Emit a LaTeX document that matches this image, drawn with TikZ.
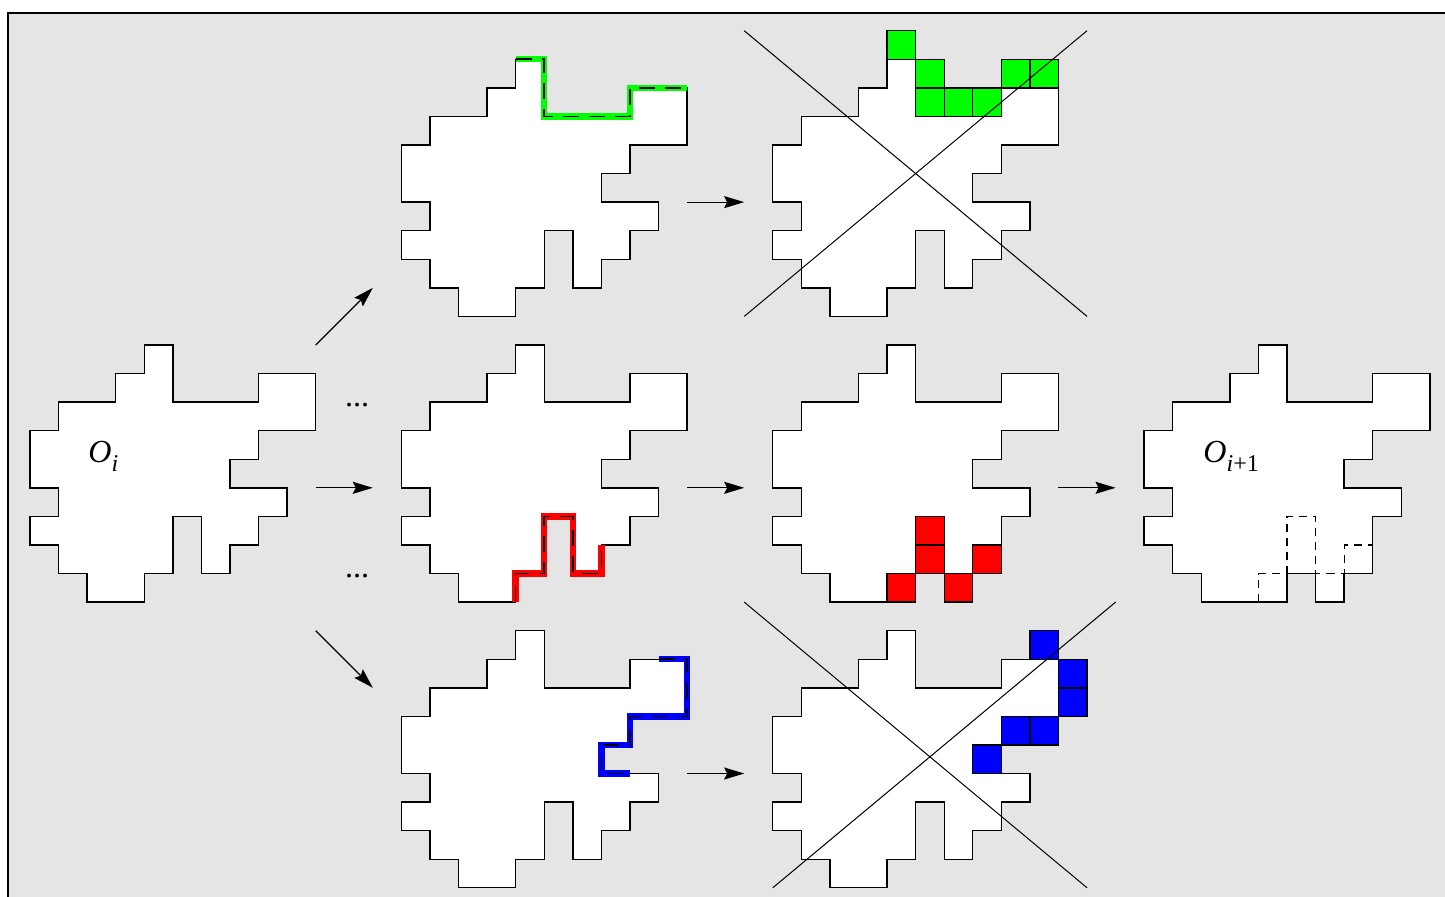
\documentclass[tikz,border=0pt]{standalone}
\usepackage{fontspec}
\setmainfont{Liberation Serif}
\usetikzlibrary{arrows.meta}
\definecolor{bg}{gray}{0.898}
\definecolor{fgreen}{RGB}{0,255,0}
\definecolor{fred}{RGB}{255,0,0}
\definecolor{fblue}{RGB}{0,0,255}
\tikzset{
  outline/.style={draw=black, line width=0.7pt, fill=white, line join=miter},
  cellbox/.style={draw=black, line width=0.7pt},
  hilite/.style={line width=3.2pt, line join=miter},
  hidash/.style={draw=black, line width=0.8pt, dash pattern=on 8pt off 5pt},
  olddash/.style={draw=black, line width=0.6pt, dash pattern=on 4pt off 3pt},
  cross/.style={draw=black, line width=0.5pt},
  arr/.style={-{Stealth[length=10pt,width=6pt,inset=1.5pt]}, line width=0.6pt},
  lbl/.style={font=\fontsize{16}{19}\selectfont, inner sep=0pt},
}
\newcommand{\baseshape}{(4,0)--(5,0)--(5,2)--(8,2)--(8,1)--(10,1)--(10,3)--(8,3)--(8,4)--(7,4)--(7,5)--(9,5)--(9,6)--(8,6)--(8,7)--(7,7)--(7,8)--(6,8)--(6,6)--(5,6)--(5,8)--(4,8)--(4,9)--(2,9)--(2,8)--(1,8)--(1,7)--(0,7)--(0,6)--(1,6)--(1,5)--(0,5)--(0,3)--(1,3)--(1,2)--(3,2)--(3,1)--(4,1)--cycle}
\newcommand{\nextshape}{(4,0)--(5,0)--(5,2)--(8,2)--(8,1)--(10,1)--(10,3)--(8,3)--(8,4)--(7,4)--(7,5)--(9,5)--(9,6)--(8,6)--(8,8)--(7,8)--(7,9)--(6,9)--(6,8)--(5,8)--(5,9)--(2,9)--(2,8)--(1,8)--(1,7)--(0,7)--(0,6)--(1,6)--(1,5)--(0,5)--(0,3)--(1,3)--(1,2)--(3,2)--(3,1)--(4,1)--cycle}
\newcommand{\cellat}[2]{(#1,#2) rectangle ++(1,1)}
\begin{document}
\begin{tikzpicture}[x=0.5cm, y=-0.5cm]
\clip (-1.05,-12.075) rectangle (49.53,19.32);
\useasboundingbox (-1.05,-12.075) rectangle (49.53,19.32);
% background panel
\filldraw[fill=bg, draw=black, line width=0.7pt] (-0.77,-11.62) rectangle (52,22);

% column 1: O_i
\begin{scope}[shift={(0,0)}]
  \draw[outline] \baseshape;
\end{scope}
\node[lbl, anchor=base west] (oi) at (2.03,4.12) {\itshape O\raisebox{-0.28em}{\fontsize{12}{14}\selectfont\itshape i}};

% column 2
\begin{scope}[shift={(13,-10)}]
  \draw[outline] \baseshape;
  \draw[hilite, draw=fgreen] (4,0)--(5,0)--(5,2)--(8,2)--(8,1)--(10,1);
  \draw[hidash] (4,0)--(5,0)--(5,2)--(8,2)--(8,1)--(10,1);
\end{scope}
\begin{scope}[shift={(13,0)}]
  \draw[outline] \baseshape;
  \draw[hilite, draw=fred] (4,9)--(4,8)--(5,8)--(5,6)--(6,6)--(6,8)--(7,8)--(7,7);
  \draw[hidash] (4,9)--(4,8)--(5,8)--(5,6)--(6,6)--(6,8)--(7,8)--(7,7);
\end{scope}
\begin{scope}[shift={(13,10)}]
  \draw[outline] \baseshape;
  \draw[hilite, draw=fblue] (9,1)--(10,1)--(10,3)--(8,3)--(8,4)--(7,4)--(7,5)--(8,5);
  \draw[hidash] (9,1)--(10,1)--(10,3)--(8,3)--(8,4)--(7,4)--(7,5)--(8,5);
\end{scope}

% column 3
\begin{scope}[shift={(26,-10)}]
  \draw[outline] \baseshape;
  \filldraw[cellbox, fill=fgreen] \cellat{4}{-1} \cellat{5}{0} \cellat{5}{1} \cellat{6}{1} \cellat{7}{1} \cellat{8}{0} \cellat{9}{0};
  \draw[cross] (-1,-1) -- (11,9);
  \draw[cross] (11,-1) -- (-1,9);
\end{scope}
\begin{scope}[shift={(26,0)}]
  \draw[outline] \baseshape;
  \filldraw[cellbox, fill=fred] \cellat{5}{6} \cellat{5}{7} \cellat{4}{8} \cellat{6}{8} \cellat{7}{7};
\end{scope}
\begin{scope}[shift={(26,10)}]
  \draw[outline] \baseshape;
  \filldraw[cellbox, fill=fblue] \cellat{9}{0} \cellat{10}{1} \cellat{10}{2} \cellat{8}{3} \cellat{9}{3} \cellat{7}{4};
  \draw[cross] (-1,-1) -- (11,9);
  \draw[cross] (12,-1) -- (0,9);
\end{scope}

% column 4: O_{i+1}
\begin{scope}[shift={(39,0)}]
  \draw[outline] \nextshape;
  \draw[olddash] (4,9)--(4,8)--(5,8)--(5,6)--(6,6)--(6,8)--(7,8)--(7,7)--(8,7);
\end{scope}
\node[lbl, anchor=base west] (oip) at (41.06,4.12) {\itshape O\raisebox{-0.28em}{\fontsize{12}{14}\selectfont{\itshape i}\upshape +1}};

% dots
\node[lbl, anchor=base] (dotsA) at (11.45,2.15) {...};
\node[lbl, anchor=base] (dotsB) at (11.45,8.15) {...};

% arrows
\coordinate (a1s) at (10,0);  \coordinate (a1e) at (12,-2);
\coordinate (a2s) at (10,5);  \coordinate (a2e) at (12,5);
\coordinate (a3s) at (10,10); \coordinate (a3e) at (12,12);
\coordinate (b1s) at (23,-5); \coordinate (b1e) at (25,-5);
\coordinate (b2s) at (23,5);  \coordinate (b2e) at (25,5);
\coordinate (b3s) at (23,15); \coordinate (b3e) at (25,15);
\coordinate (c2s) at (36,5);  \coordinate (c2e) at (38,5);
\draw[arr] (a1s) -- (a1e);
\draw[arr] (a2s) -- (a2e);
\draw[arr] (a3s) -- (a3e);
\draw[arr] (b1s) -- (b1e);
\draw[arr] (b2s) -- (b2e);
\draw[arr] (b3s) -- (b3e);
\draw[arr] (c2s) -- (c2e);
\end{tikzpicture}
\end{document}
